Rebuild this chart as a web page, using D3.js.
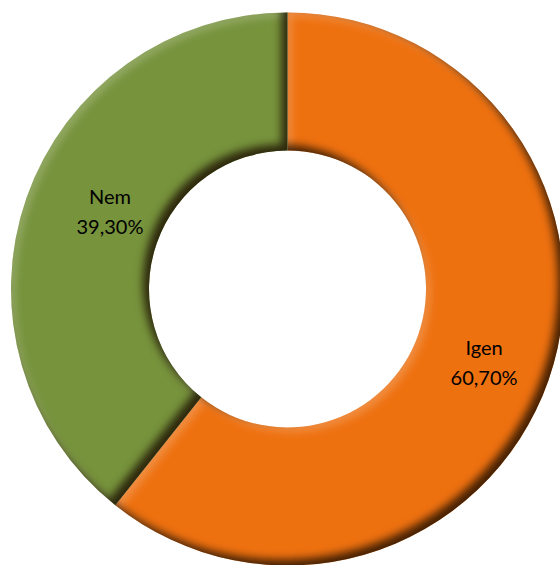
<!DOCTYPE html>
<html><head><meta charset="utf-8">
<script src="https://cdn.jsdelivr.net/npm/d3@7"></script>
<style>body{margin:0;background:#fff}svg{display:block}</style>
</head><body>
<svg id="chart" width="560" height="565"></svg>
<script>
const categories = ["Igen", "Nem"];
const values = [60.7, 39.3];
const labels = ["60,70%", "39,30%"];
const colors = ["#EE7110", "#77933C"];

const svg = d3.select("#chart");
const cx = 287.5, cy = 289, outerR = 276.5, innerR = 138.5;

const defs = svg.append("defs");
const f = defs.append("filter").attr("id", "bevel")
  .attr("x", "-20%").attr("y", "-20%").attr("width", "140%").attr("height", "140%")
  .attr("color-interpolation-filters", "sRGB");
f.append("feComponentTransfer").attr("in", "SourceAlpha").attr("result", "inv")
  .append("feFuncA").attr("type", "table").attr("tableValues", "1 0");
f.append("feGaussianBlur").attr("in", "inv").attr("stdDeviation", 4).attr("result", "invBlur");
f.append("feOffset").attr("in", "invBlur").attr("dx", -6).attr("dy", -6).attr("result", "shOff");
f.append("feFlood").attr("flood-color", "#1a0d00").attr("flood-opacity", 0.8).attr("result", "shCol");
f.append("feComposite").attr("in", "shCol").attr("in2", "shOff").attr("operator", "in").attr("result", "sh1");
f.append("feComposite").attr("in", "sh1").attr("in2", "SourceAlpha").attr("operator", "in").attr("result", "shadow");
f.append("feOffset").attr("in", "invBlur").attr("dx", 4).attr("dy", 4).attr("result", "hiOff");
f.append("feFlood").attr("flood-color", "#fff").attr("flood-opacity", 0.22).attr("result", "hiCol");
f.append("feComposite").attr("in", "hiCol").attr("in2", "hiOff").attr("operator", "in").attr("result", "hi1");
f.append("feComposite").attr("in", "hi1").attr("in2", "SourceAlpha").attr("operator", "in").attr("result", "highlight");
const m = f.append("feMerge");
m.append("feMergeNode").attr("in", "SourceGraphic");
m.append("feMergeNode").attr("in", "highlight");
m.append("feMergeNode").attr("in", "shadow");

const pie = d3.pie().sort(null).value(d => d)(values);
const arc = d3.arc().innerRadius(innerR).outerRadius(outerR);
const g = svg.append("g").attr("transform", `translate(${cx},${cy})`);
g.selectAll("path.slice").data(pie).join("path")
  .attr("class", "slice")
  .attr("d", arc)
  .attr("fill", (d, i) => colors[i])
  .attr("filter", "url(#bevel)");

const labelArc = d3.arc().innerRadius(205).outerRadius(205);
const nudge = [[3, 4], [16, -11]];
const lg = g.selectAll("g.lbl").data(pie).join("g").attr("class", "lbl")
  .attr("transform", (d, i) => {
    const c = labelArc.centroid(d);
    return `translate(${c[0] + nudge[i][0]},${c[1] + nudge[i][1]})`;
  });
lg.append("text").attr("text-anchor", "middle").attr("y", -6)
  .attr("font-family", "Lato, 'Open Sans', sans-serif").attr("font-size", 20).attr("fill", "#000")
  .text((d, i) => categories[i]);
lg.append("text").attr("text-anchor", "middle").attr("y", 24)
  .attr("font-family", "Lato, 'Open Sans', sans-serif").attr("font-size", 20).attr("fill", "#000")
  .text((d, i) => labels[i]);
</script>
</body></html>
